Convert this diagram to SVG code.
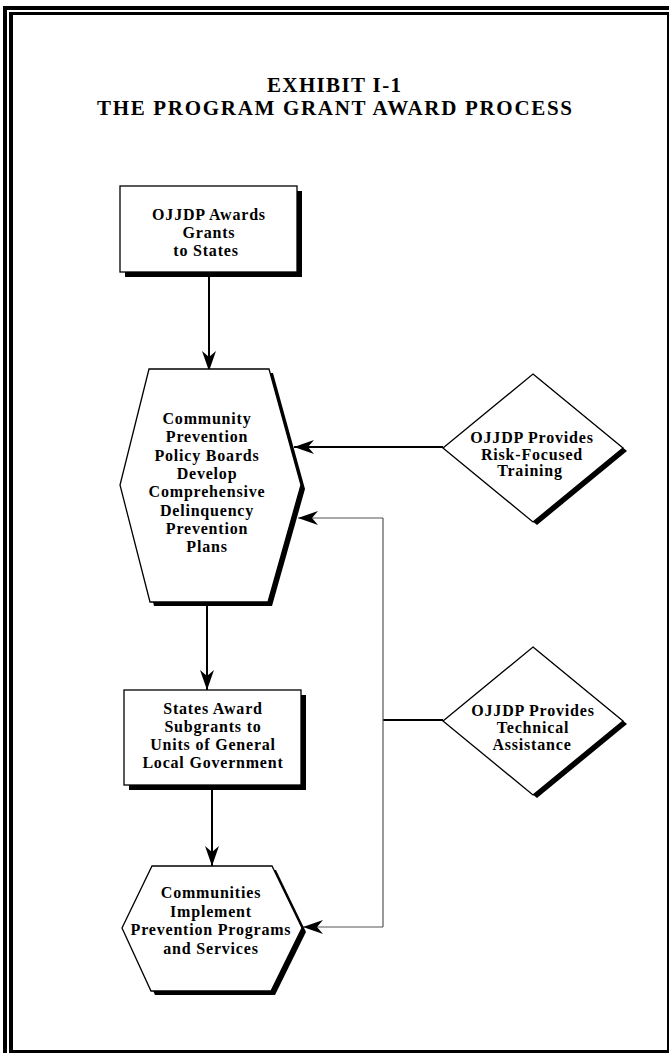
<svg xmlns="http://www.w3.org/2000/svg" width="669" height="1053" viewBox="0 0 669 1053">
<style>
.t{font-family:"Liberation Serif","Times New Roman",serif;font-weight:bold;font-size:16px;letter-spacing:0.8px;text-anchor:middle;fill:#000}
.ti{font-family:"Liberation Serif","Times New Roman",serif;font-weight:bold;font-size:21px;text-anchor:middle;fill:#000}
.shape{fill:#fff;stroke:#000;stroke-width:1.3}
.shadow{fill:#000;stroke:none}
.c{fill:none;stroke:#000;stroke-width:2}
.g{fill:none;stroke:#555;stroke-width:1.2}
</style>
<defs>
<marker id="arr" viewBox="0 0 20 14" markerWidth="20" markerHeight="14" refX="20" refY="7" orient="auto" markerUnits="userSpaceOnUse">
<path d="M0,0 L20,7 L0,14 L6,7 Z" fill="#000"/>
</marker>
</defs>
<rect width="669" height="1053" fill="#fff"/>
<g id="frame">
<path d="M5,1060 L5,8 L680,8" fill="none" stroke="#000" stroke-width="4"/>
<path d="M11,1053 L11,13.5" fill="none" stroke="#000" stroke-width="4"/>
<path d="M9,13.5 L668,13.5" fill="none" stroke="#000" stroke-width="3"/>
<path d="M668,12 L668,1053" fill="none" stroke="#000" stroke-width="2"/>
<path d="M9,1051.5 L669,1051.5" fill="none" stroke="#000" stroke-width="3"/>
</g>
<g id="title">
<text class="ti" x="334" y="92" textLength="134" lengthAdjust="spacing">EXHIBIT I-1</text>
<text class="ti" x="334.5" y="115" textLength="475" lengthAdjust="spacing">THE PROGRAM GRANT AWARD PROCESS</text>
</g>
<g id="connectors">
<path class="c" d="M209,277 L209,371" marker-end="url(#arr)"/>
<path class="c" d="M443,447 L294,447" marker-end="url(#arr)"/>
<path class="c" d="M207,605 L207,690" marker-end="url(#arr)"/>
<path class="c" d="M212,789 L212,866" marker-end="url(#arr)"/>
<path class="c" d="M443,720 L383,720"/>
<path class="g" d="M383,518 L383,927"/>
<path class="g" d="M383,518 L298,518" marker-end="url(#arr)"/>
<path class="g" d="M383,927 L303,927" marker-end="url(#arr)"/>
</g>
<g id="n1">
<rect class="shadow" x="125" y="191" width="177" height="86"/>
<rect class="shape" x="120" y="186" width="177" height="86"/>
<text class="t" x="209" y="220">OJJDP Awards</text>
<text class="t" x="209" y="238">Grants</text>
<text class="t" x="206" y="256">to States</text>
</g>
<g id="n2">
<polygon class="shadow" points="153,373 273,373 305,489 272,606 154,606 124,489"/>
<polygon class="shape" points="149,369 269,369 301,485 268,602 150,602 120,485"/>
<text class="t" x="207" y="424">Community</text>
<text class="t" x="207" y="442.3">Prevention</text>
<text class="t" x="207" y="460.6">Policy Boards</text>
<text class="t" x="207" y="478.9">Develop</text>
<text class="t" x="207" y="497.2">Comprehensive</text>
<text class="t" x="207" y="515.5">Delinquency</text>
<text class="t" x="207" y="533.8">Prevention</text>
<text class="t" x="207" y="552.1">Plans</text>
</g>
<g id="n3">
<polygon class="shadow" points="537,377 627,451 537,525 447,451"/>
<polygon class="shape" points="533,374 623,448 533,522 443,448"/>
<text class="t" x="532" y="443">OJJDP Provides</text>
<text class="t" x="532" y="459.5">Risk-Focused</text>
<text class="t" x="530" y="476">Training</text>
</g>
<g id="n4">
<rect class="shadow" x="129" y="695" width="177" height="95"/>
<rect class="shape" x="124" y="690" width="177" height="95"/>
<text class="t" x="213" y="714">States Award</text>
<text class="t" x="213" y="732">Subgrants to</text>
<text class="t" x="213" y="750">Units of General</text>
<text class="t" x="213" y="768">Local Government</text>
</g>
<g id="n5">
<polygon class="shadow" points="537,650 627,724 537,798 447,724"/>
<polygon class="shape" points="533,647 623,721 533,795 443,721"/>
<text class="t" x="533" y="716">OJJDP Provides</text>
<text class="t" x="533" y="733">Technical</text>
<text class="t" x="532" y="750">Assistance</text>
</g>
<g id="n6">
<polygon class="shadow" points="156,870 276,870 306,932 275,995 155,995 126,932"/>
<polygon class="shape" points="152,866 272,866 302,928 271,991 151,991 122,928"/>
<text class="t" x="211" y="898">Communities</text>
<text class="t" x="211" y="916.5">Implement</text>
<text class="t" x="211" y="935">Prevention Programs</text>
<text class="t" x="211" y="953.5">and Services</text>
</g>
</svg>
